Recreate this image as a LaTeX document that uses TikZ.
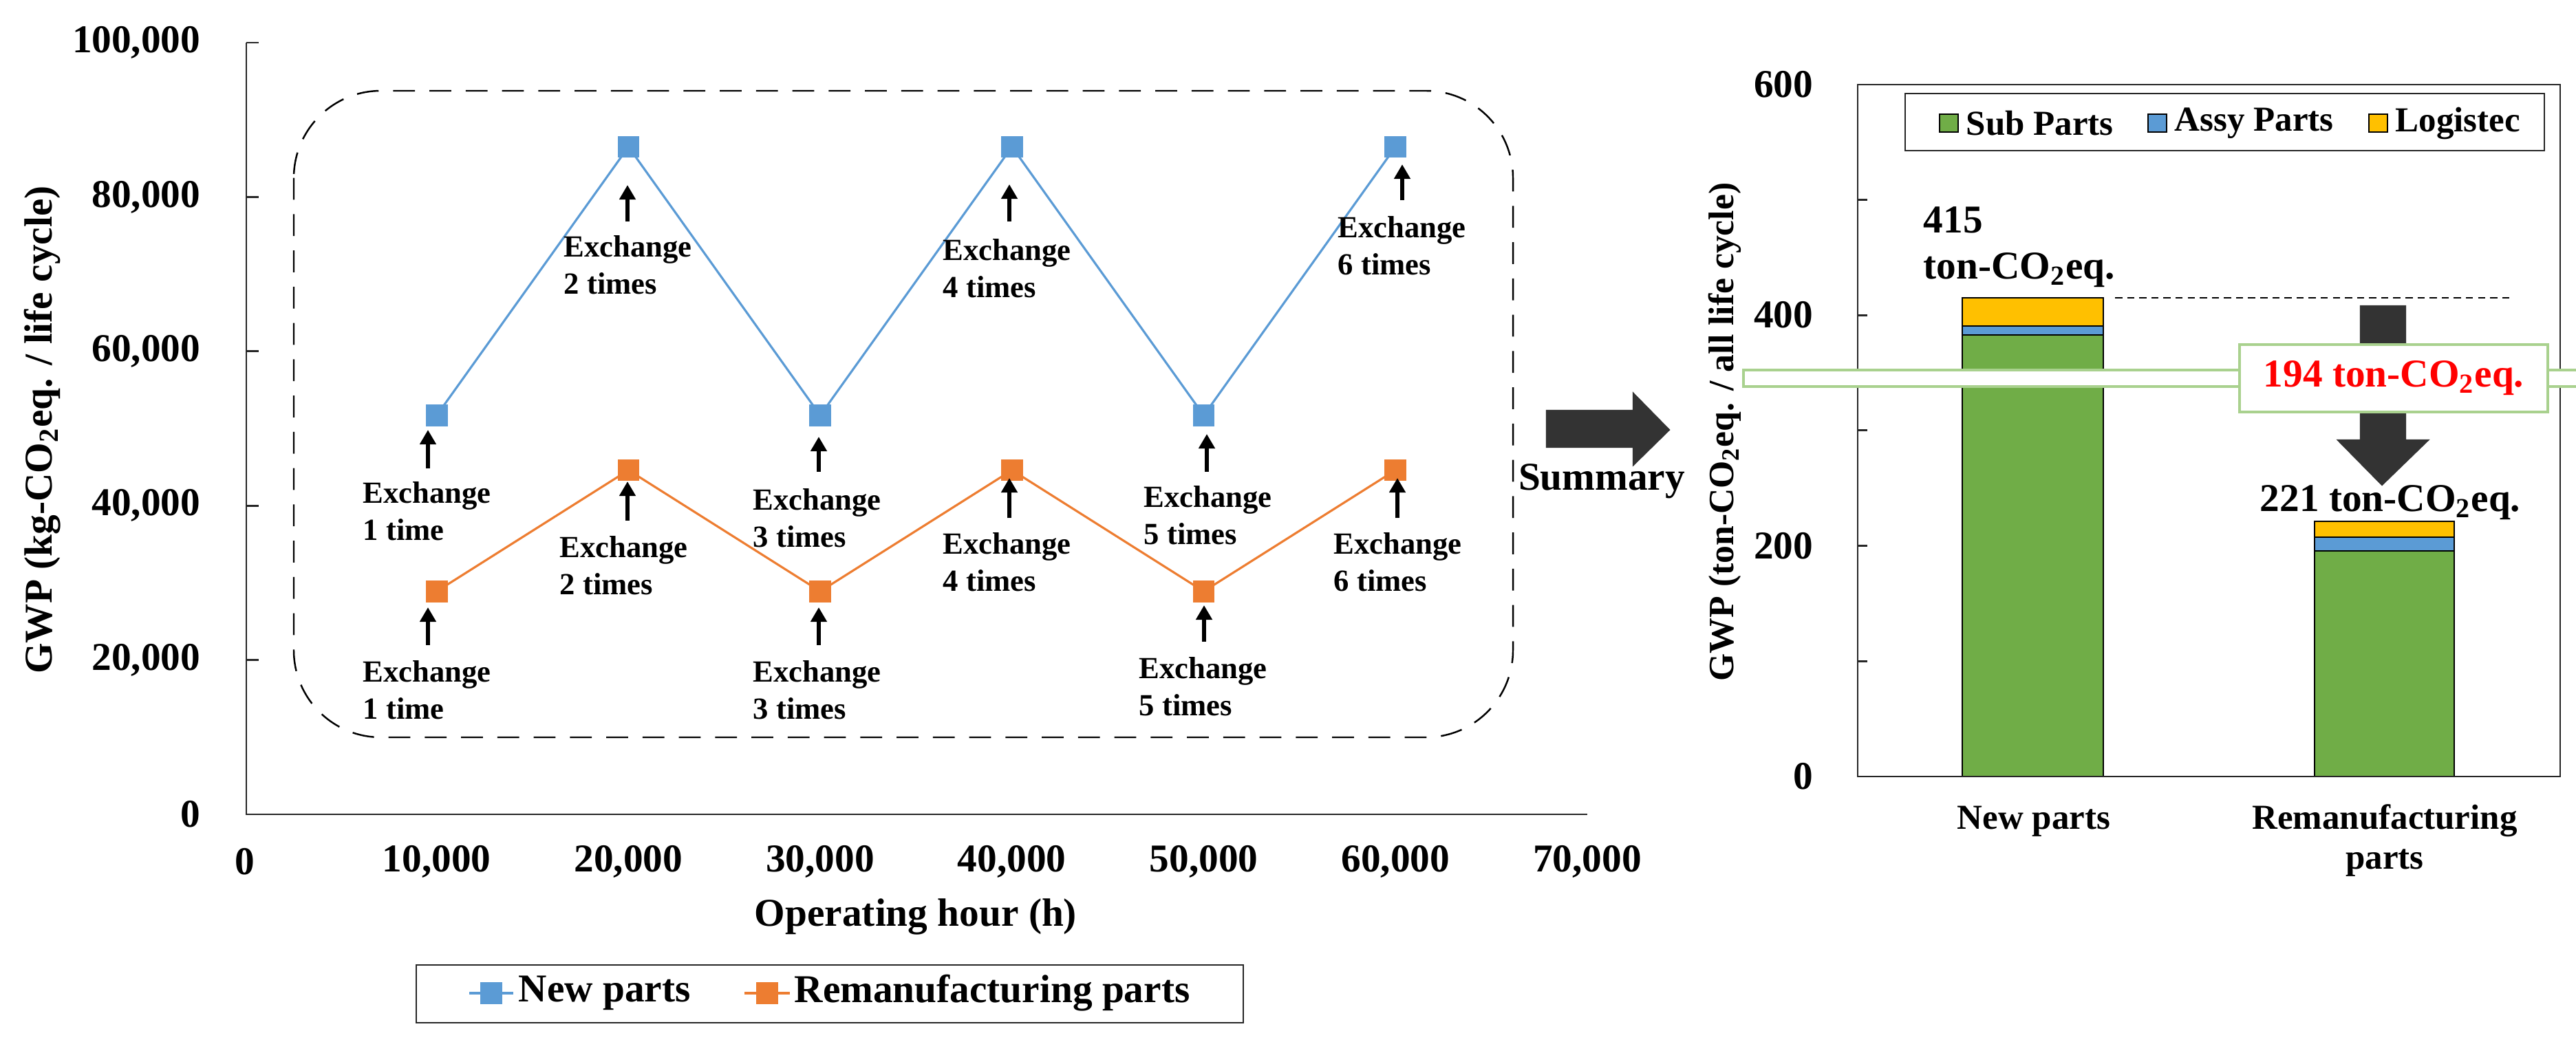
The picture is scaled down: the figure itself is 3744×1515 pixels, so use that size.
\documentclass[tikz,border=0pt]{standalone}
\usepackage{fontspec}
\setmainfont{Liberation Serif}
\usetikzlibrary{arrows.meta}
\definecolor{cblue}{HTML}{5B9BD5}
\definecolor{corange}{HTML}{ED7D31}
\definecolor{cgreen}{HTML}{70AD47}
\definecolor{cyellow}{HTML}{FFC000}
\definecolor{cgray}{HTML}{A6A6A6}
\definecolor{clgreen}{HTML}{A9D18E}
\newcommand\exlab[5]{% arrow x, arrow y1(bottom), y2(top), label x, label y, text
}
\begin{document}
\begin{tikzpicture}[x=0.01cm,y=-0.01cm,
  axis/.style={line width=0.8pt,black!85},
  big/.style={font=\fontsize{16.3}{18}\selectfont\bfseries},
  mid/.style={font=\fontsize{14.5}{16}\selectfont\bfseries},
  exl/.style={font=\fontsize{12.7}{15.4}\selectfont\bfseries,align=left,anchor=north west,inner sep=0pt},
  exa/.style={line width=1.6pt,-{Triangle[length=6pt,width=6.5pt]}},
  bm/.style={fill=cblue,draw=none,minimum size=9pt,inner sep=0pt},
  om/.style={fill=corange,draw=none,minimum size=9pt,inner sep=0pt},
  bar/.style={draw=black,line width=0.5pt}]
\useasboundingbox (0,0) rectangle (3744,1515);
% ---------- left chart axes
\draw[axis] (358,62) -- (358,1184) -- (2307,1184);
\foreach \v/\t in {0/0,20/{20,000},40/{40,000},60/{60,000},80/{80,000},100/{100,000}}{
  \draw[axis] (358,{1184-11.22*\v}) -- (376,{1184-11.22*\v});
  \node[big,anchor=east,inner sep=0pt] at (292,{1184-11.22*\v}) {\t};}
\foreach \k/\t in {0/0,1/{10,000},2/{20,000},3/{30,000},4/{40,000},5/{50,000},6/{60,000},7/{70,000}}
  \node[big] at ({356+278.7*\k},1253) {\t};
\node[big] (xt) at (1331,1333) {Operating hour (h)};
\node[big,rotate=90] (yt) at (62,625) {GWP (kg-CO\textsubscript{2}eq. / life cycle)};
% dashed box
\draw[dash pattern=on 9pt off 6pt,line width=0.7pt,rounded corners=36pt] (427,132) rectangle (2199,1072);
% data
\foreach \i/\k/\b/\o in {1/1/51.7/28.9,2/2/86.5/44.6,3/3/51.7/28.9,4/4/86.5/44.6,5/5/51.7/28.9,6/6/86.5/44.6}{
  \node[bm] (b\i) at ({356+278.7*\k},{1184-11.22*\b}) {};
  \node[om] (o\i) at ({356+278.7*\k},{1184-11.22*\o}) {};}
\draw[cblue,line width=0.9pt] (b1.center)--(b2.center)--(b3.center)--(b4.center)--(b5.center)--(b6.center);
\draw[corange,line width=0.9pt] (o1.center)--(o2.center)--(o3.center)--(o4.center)--(o5.center)--(o6.center);
\foreach \i in {1,...,6}{\node[bm] at (b\i) {}; \node[om] at (o\i) {};}
% exchange arrows and labels (blue)
\foreach \x/\ya/\yb/\lx/\ly/\t in {
 622/681/625/527/700/{Exchange\\1 time},
 912/322/269/819/342/{Exchange\\2 times},
 1190/686/635/1094/710/{Exchange\\3 times},
 1467/322/268/1370/347/{Exchange\\4 times},
 1754/686/631/1662/706/{Exchange\\5 times},
 2038/291/239/1944/314/{Exchange\\6 times},
 622/938/883/527/960/{Exchange\\1 time},
 912/757/700/813/779/{Exchange\\2 times},
 1190/938/883/1094/960/{Exchange\\3 times},
 1467/753/695/1370/774/{Exchange\\4 times},
 1750/933/880/1655/955/{Exchange\\5 times},
 2031/753/695/1938/774/{Exchange\\6 times}}{
  \draw[exa] (\x,\ya) -- (\x,\yb);
  \node[exl] at (\lx,\ly) {\t};}
% legend left
\draw[line width=0.8pt,black!85] (605,1403) rectangle (1807,1487);
\draw[cblue,line width=1.2pt] (682,1444) -- (746,1444); \node[bm] at (714,1444) {};
\node[big,anchor=west,inner sep=0pt] at (753,1444) {New parts};
\draw[corange,line width=1.2pt] (1082,1444) -- (1148,1444); \node[om] at (1115,1444) {};
\node[big,anchor=west,inner sep=0pt] at (1154,1444) {Remanufacturing parts};
% summary arrow
\draw[fill=cgray,line width=0.6pt,black!80] (2248,597)--(2374,597)--(2374,572)--(2426,625)--(2374,676)--(2374,650)--(2248,650)--cycle;
\node[big] (sum) at (2328,700) {Summary};
% ---------- right chart
\draw[axis] (2700,123) rectangle (3721,1129);
\foreach \v in {100,200,300,400,500}
  \draw[axis] (2700,{1129-1.677*\v}) -- (2714,{1129-1.677*\v});
\foreach \v in {0,200,400,600}
  \node[big,anchor=east,inner sep=0pt] at (2636,{1129-1.677*\v}) {\v};
\node[big,rotate=90,font=\fontsize{14.7}{16}\selectfont\bfseries] at (2507,628) {GWP (ton-CO\textsubscript{2}eq. / all life cycle)};
% bars
\draw[bar,fill=cgreen] (2852,1129) rectangle (3057,487);
\draw[bar,fill=cblue] (2852,487) rectangle (3057,474);
\draw[bar,fill=cyellow] (2852,474) rectangle (3057,433);
\draw[bar,fill=cgreen] (3364,1129) rectangle (3567,801);
\draw[bar,fill=cblue] (3364,801) rectangle (3567,781);
\draw[bar,fill=cyellow] (3364,781) rectangle (3567,758);
\draw[axis] (2700,1129) -- (3721,1129);
\node[mid] at (2956,1194) {New parts};
\node[mid,align=center,font=\fontsize{14.5}{16.5}\selectfont\bfseries] at (3466,1222) {Remanufacturing\\parts};
% legend right
\draw[line width=0.8pt,black!85] (2769,136) rectangle (3698,219);
\foreach \x/\c/\t in {2819/cgreen/Sub Parts,3122/cblue/Assy Parts,3443/cyellow/Logistec}{
  \draw[fill=\c,line width=0.6pt] (\x,166) rectangle ++(27,26);
  \node[mid,anchor=west,inner sep=0pt] at (\x+38,179) {\t};}
% annotations
\node[big,anchor=west,inner sep=0pt] at (2795,320) {415};
\node[big,anchor=west,inner sep=0pt] at (2795,393) {ton-CO\textsubscript{2}eq.};
\draw[dash pattern=on 3pt off 2pt,line width=0.7pt] (3074,433) -- (3651,433);
\draw[fill=clgreen,line width=0.6pt,black!80] (3431,445)--(3496,445)--(3496,640)--(3529,640)--(3462,705)--(3398,640)--(3431,640)--cycle;
\node[draw=clgreen,line width=1.2pt,fill=white,minimum width=448\pgflinewidth,text=red,big,
      minimum height=0pt] (red) at (3479,550) {};
\draw[draw=clgreen,line width=1.2pt,fill=white] (3255,501) rectangle (3703,599);
\node[big,text=red] at (3479,550) {194 ton-CO\textsubscript{2}eq.};
\node[big] at (3474,731) {221 ton-CO\textsubscript{2}eq.};
\end{tikzpicture}
\end{document}
